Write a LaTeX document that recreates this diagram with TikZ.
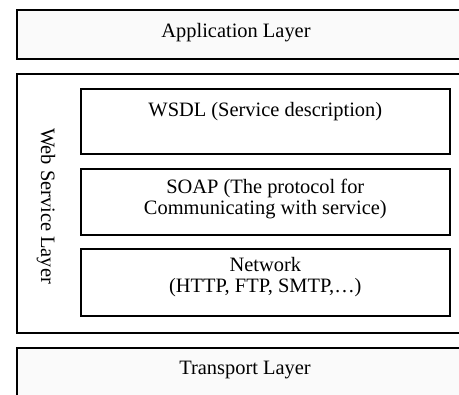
\documentclass[tikz,border=0pt]{standalone}
\usepackage{fontspec}
\setmainfont{Liberation Serif}
\usetikzlibrary{positioning}

\begin{document}
\begin{tikzpicture}[x=1bp, y=-1bp, line width=1.6bp,
        layerbox/.style={draw, rectangle, anchor=north west, inner sep=0pt, minimum width=460bp},
        protobox/.style={draw, rectangle, anchor=north west, inner sep=0pt, minimum width=369bp},
        lbl/.style={font=\fontsize{20.5}{21}\selectfont, inner sep=0pt, align=center}]
            \useasboundingbox (0, 0) rectangle (459, 394);
            \node[layerbox, fill=black!2, minimum height=49bp] (app) at (16, 9) {};
            \node[layerbox, minimum height=259bp] (ws) at (16, 73) {};
            \node[layerbox, fill=black!2, minimum height=60bp] (tr) at (16, 347) {};
            \node[protobox, minimum height=65bp] (wsdl) at (80, 88) {};
            \node[protobox, minimum height=66bp] (soap) at (80, 168) {};
            \node[protobox, minimum height=67bp] (net) at (80, 248) {};
            \node[lbl] (applbl) at (236, 33) {Application Layer};
            \node[lbl, rotate=-90] (wslbl) at (46, 206) {Web Service Layer};
            \node[lbl, below=14bp of wsdl.north] (wsdllbl) {WSDL (Service description)};
            \node[lbl, below=10bp of soap.north] (soaplbl) {SOAP (The protocol for\\Communicating with service)};
            \node[lbl, below=8.5bp of net.north] (netlbl) {Network\\(HTTP, FTP, SMTP,…)};
            \node[lbl] (trlbl) at (245, 370) {Transport Layer};
        \end{tikzpicture}
\end{document}
